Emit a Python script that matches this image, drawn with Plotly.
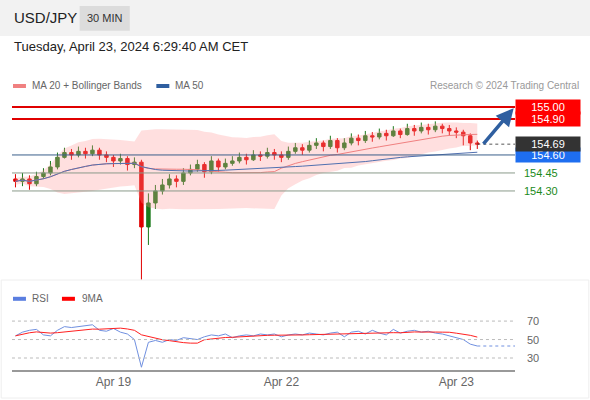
import pandas as pd
import plotly.graph_objects as go

closes = [154.38, 154.40, 154.36, 154.42, 154.45, 154.50, 154.58, 154.62, 154.60, 154.63,
          154.61, 154.64, 154.60, 154.58, 154.55, 154.57, 154.52, 154.54, 154.00, 154.20,
          154.30, 154.35, 154.40, 154.38, 154.45, 154.48, 154.52, 154.46, 154.55, 154.50,
          154.53, 154.55, 154.58, 154.56, 154.60, 154.59, 154.62, 154.60, 154.58, 154.63,
          154.66, 154.64, 154.68, 154.70, 154.67, 154.72, 154.66, 154.70, 154.74, 154.72,
          154.76, 154.75, 154.78, 154.76, 154.80, 154.77, 154.82, 154.80, 154.83, 154.81,
          154.84, 154.82, 154.80, 154.79, 154.76, 154.70, 154.69]
highs = [154.44, 154.45, 154.43, 154.46, 154.49, 154.55, 154.62, 154.66, 154.65, 154.67,
         154.66, 154.68, 154.66, 154.63, 154.60, 154.61, 154.59, 154.58, 154.56, 154.28,
         154.35, 154.40, 154.44, 154.43, 154.49, 154.52, 154.56, 154.54, 154.59, 154.57,
         154.57, 154.59, 154.62, 154.61, 154.64, 154.63, 154.66, 154.65, 154.63, 154.67,
         154.70, 154.69, 154.72, 154.74, 154.72, 154.76, 154.74, 154.74, 154.78, 154.77,
         154.80, 154.79, 154.82, 154.81, 154.84, 154.82, 154.86, 154.85, 154.87, 154.86,
         154.88, 154.86, 154.85, 154.83, 154.81, 154.78, 154.72]
lows = [154.33, 154.34, 154.31, 154.34, 154.40, 154.43, 154.48, 154.57, 154.56, 154.58,
        154.57, 154.59, 154.56, 154.54, 154.50, 154.52, 154.47, 154.49, 153.56, 153.85,
        154.15, 154.27, 154.32, 154.33, 154.35, 154.43, 154.46, 154.41, 154.44, 154.46,
        154.48, 154.51, 154.53, 154.52, 154.55, 154.55, 154.57, 154.56, 154.54, 154.56,
        154.61, 154.60, 154.62, 154.65, 154.63, 154.65, 154.62, 154.64, 154.68, 154.68,
        154.70, 154.71, 154.73, 154.72, 154.75, 154.74, 154.76, 154.76, 154.78, 154.77,
        154.79, 154.78, 154.76, 154.74, 154.68, 154.64, 154.65]
rsi_vals = [54, 58, 60, 61, 55, 54, 60, 64, 63, 64, 65, 66, 60, 59, 62, 58, 56, 50,
            20, 47, 49, 47, 50, 49, 52, 51, 50, 53, 55, 54, 56, 52, 54, 55, 54, 56, 55, 56,
            53, 55, 56, 55, 57, 56, 55, 57, 58, 53, 58, 59, 56, 60, 57, 55, 61, 57, 59, 60, 58,
            59, 57, 56, 54, 52, 50, 45, 43]
first_open = 154.40
day_ticks = [14, 38, 63]
day_labels = ["Apr 19", "Apr 22", "Apr 23"]
levels_red = [155.00, 154.90]
level_blue = 154.60
levels_green = [154.45, 154.30]
last_price = 154.69

opens = [first_open] + closes[:-1]
n = len(closes)
idx = list(range(n))
s = pd.Series(closes)
ma20 = s.rolling(20, min_periods=1).mean()
sd20 = s.rolling(20, min_periods=2).std().bfill()
upper, lower = ma20 + 2 * sd20, ma20 - 2 * sd20
ma50 = s.rolling(50, min_periods=1).mean()
rsi = pd.Series(rsi_vals)
rsi9 = rsi.rolling(9, min_periods=1).mean()

xmax = 71.4
fig = go.Figure()
fig.add_trace(go.Scatter(x=idx, y=upper, mode="lines", line=dict(width=0), showlegend=False, yaxis="y"))
fig.add_trace(go.Scatter(x=idx, y=lower, mode="lines", line=dict(width=0), fill="tonexty",
                         fillcolor="rgba(255,150,150,0.3)", showlegend=False))
fig.add_trace(go.Scatter(x=idx, y=ma20, mode="lines", line=dict(color="#f08080", width=1), showlegend=False))
fig.add_trace(go.Scatter(x=idx, y=ma50, mode="lines", line=dict(color="#5070b0", width=1), showlegend=False))
fig.add_trace(go.Candlestick(x=idx, open=opens, high=highs, low=lows, close=closes, showlegend=False,
                             increasing=dict(line=dict(color="#1b7a1b", width=1), fillcolor="#1b7a1b"),
                             decreasing=dict(line=dict(color="#e00000", width=1), fillcolor="#e00000")))
fig.add_trace(go.Scatter(x=[n - 1, xmax], y=[last_price, last_price], mode="lines",
                         line=dict(color="#555", width=1, dash="dot"), showlegend=False))
fig.add_trace(go.Scatter(x=idx, y=rsi, mode="lines", line=dict(color="#7090e0", width=1),
                         showlegend=False, yaxis="y2", xaxis="x2"))
fig.add_trace(go.Scatter(x=idx, y=rsi9, mode="lines", line=dict(color="#ff2020", width=1),
                         showlegend=False, yaxis="y2", xaxis="x2"))
fig.add_trace(go.Scatter(x=[n - 1, xmax], y=[rsi.iloc[-1]] * 2, mode="lines",
                         line=dict(color="#7090e0", width=1, dash="dot"), showlegend=False,
                         yaxis="y2", xaxis="x2"))

for lv in levels_red:
    fig.add_shape(type="line", x0=-0.5, x1=xmax, y0=lv, y1=lv, line=dict(color="#e00000", width=2))
    fig.add_annotation(x=0.873, y=lv, xref="paper", text=f"{lv:.2f}", showarrow=False, xanchor="left",
                       bgcolor="#ff0000", font=dict(color="white", size=11), width=62, borderpad=1)
fig.add_shape(type="line", x0=-0.5, x1=xmax, y0=level_blue, y1=level_blue, line=dict(color="#3a5f8a", width=1))
fig.add_annotation(x=0.873, y=level_blue, xref="paper", text=f"{level_blue:.2f}", showarrow=False,
                   xanchor="left", bgcolor="#1e6ef0", font=dict(color="white", size=11), width=62, borderpad=1)
fig.add_annotation(x=0.873, y=last_price, xref="paper", text=f"{last_price:.2f}", showarrow=False,
                   xanchor="left", bgcolor="#333333", font=dict(color="white", size=11), width=62, borderpad=1)
for lv in levels_green:
    fig.add_shape(type="line", x0=-0.5, x1=xmax, y0=lv, y1=lv, line=dict(color="#8a9a8a", width=1))
    fig.add_annotation(x=0.885, y=lv, xref="paper", text=f"{lv:.2f}", showarrow=False, xanchor="left",
                       font=dict(color="#1b8a1b", size=11))
fig.add_annotation(x=xmax - 0.2, y=154.99, ax=n - 0.3, ay=154.68, axref="x", ayref="y", showarrow=True,
                   arrowhead=2, arrowsize=1, arrowwidth=3.5, arrowcolor="#2f5fa0", text="")
for v in [70, 50, 30]:
    fig.add_shape(type="line", x0=-0.5, x1=xmax, y0=v, y1=v, xref="x2", yref="y2",
                  line=dict(color="#bbb", width=1, dash="dot"))
    fig.add_annotation(x=0.89, y=v, xref="paper", yref="y2", text=str(v), showarrow=False,
                       xanchor="left", font=dict(color="#666", size=11))

# header and legends
fig.add_shape(type="rect", xref="paper", yref="paper", x0=0, x1=1, y0=0.91, y1=1,
              fillcolor="#f2f2f2", line=dict(width=0), layer="below")
fig.add_shape(type="rect", xref="paper", yref="paper", x0=0.135, x1=0.22, y0=0.923, y1=0.985,
              fillcolor="#dcdcdc", line=dict(width=0))
fig.add_shape(type="rect", xref="paper", yref="paper", x0=0.002, x1=0.998, y0=0.005, y1=0.3,
              fillcolor="rgba(0,0,0,0)", line=dict(color="#eee", width=1))
texts = [(0.02, 0.957, "USD/JPY", 15, "#222"), (0.178, 0.955, "30 MIN", 11, "#333"),
         (0.02, 0.883, "Tuesday, April 23, 2024 6:29:40 AM CET", 13, "#222"),
         (0.05, 0.785, "MA 20 + Bollinger Bands", 10, "#666"), (0.293, 0.785, "MA 50", 10, "#666"),
         (0.05, 0.253, "RSI", 10, "#666"), (0.135, 0.253, "9MA", 10, "#666")]
for x, y, t, sz, c in texts:
    fig.add_annotation(x=x, y=y, xref="paper", yref="paper", text=t, showarrow=False, yanchor="middle",
                       xanchor="center" if t == "30 MIN" else "left", font=dict(size=sz, color=c))
fig.add_annotation(x=0.985, y=0.785, xref="paper", yref="paper", text="Research © 2024 Trading Central",
                   showarrow=False, xanchor="right", yanchor="middle", font=dict(size=10, color="#999"))
for x0, c in [(0.022, "#f08080"), (0.265, "#2f5fa0"), (0.022, "#5a7ee0"), (0.105, "#ff0000")]:
    y0 = 0.785 if c in ("#f08080", "#2f5fa0") else 0.253
    fig.add_shape(type="rect", xref="paper", yref="paper", x0=x0, x1=x0 + 0.022, y0=y0 - 0.005, y1=y0 + 0.005,
                  fillcolor=c, line=dict(width=0))

fig.update_layout(
    width=590, height=400, margin=dict(l=0, r=0, t=0, b=0), paper_bgcolor="white", plot_bgcolor="white",
    font=dict(family="Liberation Sans, Arial"),
    xaxis=dict(domain=[0.0203, 0.873], range=[-0.5, xmax], showticklabels=False, showgrid=False,
               rangeslider=dict(visible=False), zeroline=False),
    yaxis=dict(domain=[0.30, 0.75], range=[153.558, 155.058], showticklabels=False, showgrid=False, zeroline=False),
    xaxis2=dict(domain=[0.0203, 0.873], range=[-0.5, xmax], anchor="y2", tickvals=day_ticks, ticktext=day_labels,
                showgrid=False, showline=True, linecolor="#999", linewidth=2, ticks="", zeroline=False,
                tickfont=dict(color="#666", size=12)),
    yaxis2=dict(domain=[0.075, 0.225], range=[17, 82], showticklabels=False, showgrid=False, zeroline=False),
)
fig.write_html("out.html", config={"displayModeBar": False}, post_script="document.body.style.margin='0';")
